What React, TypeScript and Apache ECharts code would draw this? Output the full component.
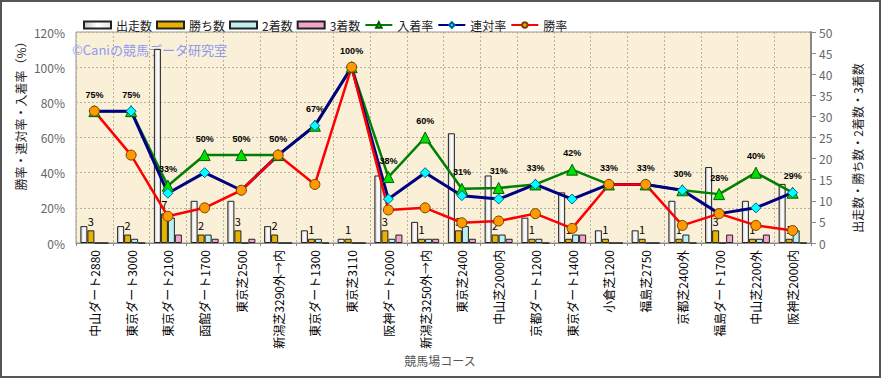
import React, { useEffect, useRef } from "react";
import * as echarts from "echarts";

const categories = [
  "中山ダート2880", "東京ダート3000", "東京ダート2100", "函館ダート1700", "東京芝2500",
  "新潟芝3290外→内", "東京ダート1300", "東京芝3110", "阪神ダート2000", "新潟芝3250外→内",
  "東京芝2400", "中山芝2000内", "京都ダート1200", "東京ダート1400", "小倉芝1200",
  "福島芝2750", "京都芝2400外", "福島ダート1700", "中山芝2200外", "阪神芝2000内",
];
const starts = [4, 4, 46, 10, 10, 4, 3, 1, 16, 5, 26, 16, 6, 12, 3, 3, 10, 18, 10, 14];
const wins = [3, 2, 7, 2, 3, 2, 1, 1, 3, 1, 3, 2, 1, 1, 1, 1, 1, 3, 1, 1];
const seconds = [0, 1, 6, 2, 0, 0, 1, 0, 1, 1, 4, 2, 1, 2, 0, 0, 2, 0, 1, 3];
const thirds = [0, 0, 2, 1, 1, 0, 0, 0, 2, 1, 1, 1, 0, 2, 0, 0, 0, 2, 2, 0];
const placeRate = [75, 75, 32.6, 50, 50, 50, 66.7, 100, 37.5, 60, 30.8, 31.3, 33.3, 41.7, 33.3, 33.3, 30, 27.8, 40, 28.6];
const rentaiRate = [75, 75, 28.3, 40, 30, 50, 66.7, 100, 25, 40, 26.9, 25, 33.3, 25, 33.3, 33.3, 30, 16.7, 20, 28.6];
const winRate = [75, 50, 15.2, 20, 30, 50, 33.3, 100, 18.8, 20, 11.5, 12.5, 16.7, 8.3, 33.3, 33.3, 10, 16.7, 10, 7.1];

const FONT = '"Noto Sans CJK JP", "Noto Sans", sans-serif';

export default function App() {
  const ref = useRef<HTMLDivElement>(null);
  useEffect(() => {
    if (!ref.current) return;
    const chart = echarts.init(ref.current, undefined, { renderer: "svg" });
    const barBorder = { borderColor: "#222", borderWidth: 1 };
    chart.setOption({
      animation: false,
      backgroundColor: "#ffffff",
      textStyle: { fontFamily: FONT },
      legend: {
        left: 78,
        top: 14,
        itemWidth: 27,
        itemHeight: 7,
        itemGap: 4,
        textStyle: { fontSize: 12, color: "#222", fontFamily: FONT },
        data: [
          { name: "出走数", icon: "rect" },
          { name: "勝ち数", icon: "rect" },
          { name: "2着数", icon: "rect" },
          { name: "3着数", icon: "rect" },
          { name: "入着率" },
          { name: "連対率" },
          { name: "勝率" },
        ],
      },
      grid: {
        left: 76,
        right: 70,
        top: 32,
        bottom: 135,
        show: true,
        backgroundColor: "#FAEFD7",
        borderColor: "#999",
        borderWidth: 1,
      },
      xAxis: {
        type: "category",
        data: categories,
        boundaryGap: true,
        axisLine: { lineStyle: { color: "#888" } },
        axisTick: { show: true, length: 3, lineStyle: { color: "#888" } },
        splitLine: { show: true, lineStyle: { color: "#b8b0a0", type: [2, 2] } },
        axisLabel: { rotate: 90, interval: 0, color: "#000", fontSize: 12, margin: 7, fontFamily: FONT },
      },
      yAxis: [
        {
          type: "value",
          min: 0,
          max: 120,
          interval: 20,
          axisLine: { show: false },
          axisTick: { show: false },
          axisLabel: { formatter: "{value}%", color: "#666", fontSize: 12, margin: 11, fontFamily: FONT },
          splitLine: { show: true, lineStyle: { color: "#b8b0a0", type: [2, 2] } },
        },
        {
          type: "value",
          position: "right",
          min: 0,
          max: 50,
          interval: 5,
          axisLine: { show: true, lineStyle: { color: "#888", width: 2 } },
          axisTick: { show: true, length: 5, lineStyle: { color: "#888" } },
          axisLabel: { color: "#666", fontSize: 12, margin: 8, fontFamily: FONT },
          splitLine: { show: false },
        },
      ],
      series: [
        {
          name: "出走数",
          type: "bar",
          yAxisIndex: 1,
          data: starts,
          barWidth: 7,
          barGap: "0%",
          itemStyle: {
            ...barBorder,
            color: new echarts.graphic.LinearGradient(0, 0, 1, 0, [
              { offset: 0, color: "#c8c8c8" },
              { offset: 0.5, color: "#ffffff" },
              { offset: 1, color: "#e4e4e4" },
            ]),
          },
        },
        {
          name: "勝ち数",
          type: "bar",
          yAxisIndex: 1,
          data: wins,
          barWidth: 7,
          barGap: "0%",
          itemStyle: { ...barBorder, color: "#E8B300" },
          label: { show: true, position: "top", distance: 4, fontSize: 11, color: "#000", fontFamily: FONT },
        },
        {
          name: "2着数",
          type: "bar",
          yAxisIndex: 1,
          data: seconds,
          barWidth: 7,
          barGap: "0%",
          itemStyle: { ...barBorder, color: "#BDF0F0" },
        },
        {
          name: "3着数",
          type: "bar",
          yAxisIndex: 1,
          data: thirds,
          barWidth: 7,
          barGap: "0%",
          itemStyle: { ...barBorder, color: "#F2A4CA" },
        },
        {
          name: "入着率",
          type: "line",
          yAxisIndex: 0,
          data: placeRate,
          symbol: "triangle",
          symbolSize: 11,
          lineStyle: { color: "#008000", width: 2.5 },
          itemStyle: { color: "#00E000", borderColor: "#006000", borderWidth: 1 },
          label: {
            show: true,
            position: "top",
            distance: 6,
            fontSize: 9,
            fontWeight: "bold",
            color: "#000",
            fontFamily: '"Liberation Sans", sans-serif',
            formatter: (p: any) => Math.round(p.value) + "%",
          },
        },
        {
          name: "連対率",
          type: "line",
          yAxisIndex: 0,
          data: rentaiRate,
          symbol: "diamond",
          symbolSize: 10,
          lineStyle: { color: "#000080", width: 3 },
          itemStyle: { color: "#00FFFF", borderColor: "#0060a0", borderWidth: 1 },
        },
        {
          name: "勝率",
          type: "line",
          yAxisIndex: 0,
          data: winRate,
          symbol: "circle",
          symbolSize: 10,
          lineStyle: { color: "#FF0000", width: 2.5 },
          itemStyle: { color: "#FF9900", borderColor: "#704000", borderWidth: 1 },
        },
      ],
      graphic: [
        {
          type: "rect",
          shape: { x: 1, y: 1, width: 879, height: 376 },
          style: { fill: "none", stroke: "#555", lineWidth: 2 },
          silent: true,
        },
        {
          type: "text",
          x: 72,
          y: 49,
          style: {
            text: "©Caniの競馬データ研究室",
            fill: "#8C9BF2",
            font: '13px "Noto Sans CJK JP"',
            textVerticalAlign: "middle",
          },
          z: 1,
        },
        {
          type: "text",
          x: 20,
          y: 113,
          rotation: Math.PI / 2,
          style: {
            text: "勝率・連対率・入着率（%）",
            fill: "#222",
            font: '12px "Noto Sans CJK JP"',
            textAlign: "center",
            textVerticalAlign: "middle",
          },
        },
        {
          type: "text",
          x: 857,
          y: 148,
          rotation: Math.PI / 2,
          style: {
            text: "出走数・勝ち数・2着数・3着数",
            fill: "#222",
            font: '12px "Noto Sans CJK JP"',
            textAlign: "center",
            textVerticalAlign: "middle",
          },
        },
        {
          type: "text",
          x: 440,
          y: 360,
          style: {
            text: "競馬場コース",
            fill: "#555",
            font: '12px "Noto Sans CJK JP"',
            textAlign: "center",
            textVerticalAlign: "middle",
          },
        },
      ],
    });
    return () => chart.dispose();
  }, []);
  return (
    <div
      ref={ref}
      style={{ position: "absolute", left: 0, top: 0, width: 881, height: 378 }}
    />
  );
}
